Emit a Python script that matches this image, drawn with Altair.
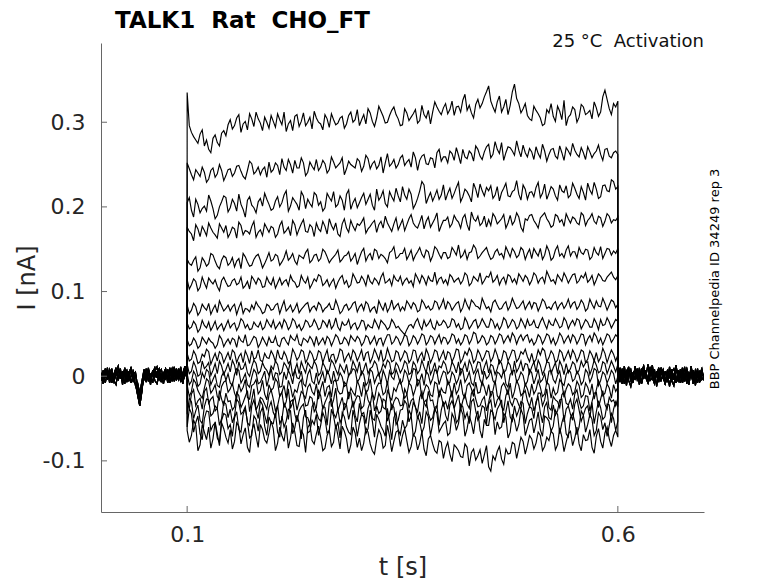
import altair as alt
import pandas as pd

# ---------------- axes / text ----------------
X_DOMAIN = [0.0, 0.7]
Y_DOMAIN = [-0.1604, 0.3936]
X_TICKS = [0.1, 0.6]
Y_TICKS = [-0.1, 0.0, 0.1, 0.2, 0.3]
NB = "\u00a0"
TITLE = "TALK1" + NB + " Rat" + NB + " CHO_FT"
SUBTITLE = "25 °C" + NB + " Activation"
SIDE_NOTE = "BBP Channelpedia ID 34249 rep 3"

# sample times (s): pre-pulse baseline, pulse, post-pulse baseline
T_PRE = [round(0.0025 * j, 4) for j in range(41)]
T_PULSE = [round(0.1 + 0.0025 * j, 5) for j in range(201)]
T_POST = [round(0.6 + 0.0025 * j, 4) for j in range(41)]

# ---------------- pulse currents (pA), samples at t = 0.100, 0.105, ... 0.600 ----------------
TR01 = [335, 288, 279, 286, 272, 268, 281, 276, 287, 284,
        303, 296, 309, 298, 291, 304, 312, 299, 306, 293,
        301, 310, 297, 289, 302, 307, 295, 311, 300, 292,
        305, 298, 309, 294, 303, 299, 307, 298, 312, 303,
        296, 309, 316, 301, 305, 313, 299, 308, 318, 304,
        297, 311, 306, 315, 302, 309, 314, 312, 318, 309,
        322, 315, 308, 319, 326, 314, 311, 321, 317, 330,
        343, 318, 324, 312, 327, 320, 345, 322, 316, 308,
        302, 314, 305, 298, 311, 307, 319, 303, 296, 309,
        315, 306, 318, 311, 304, 317, 312, 338, 316, 322, 325]
TR02 = [252, 238, 244, 236, 241, 233, 246, 239, 243, 237,
        245, 240, 249, 236, 243, 251, 242, 238, 247, 253,
        244, 249, 257, 243, 250, 255, 246, 252, 241, 248,
        256, 247, 251, 244, 253, 249, 258, 245, 250, 246,
        254, 248, 257, 251, 245, 259, 252, 248, 256, 250,
        261, 253, 247, 258, 255, 262, 250, 257, 264, 254,
        259, 266, 255, 261, 268, 257, 263, 272, 260, 265,
        274, 262, 268, 276, 264, 270, 261, 267, 273, 259,
        265, 271, 258, 266, 262, 269, 257, 264, 270, 261,
        267, 259, 264, 271, 258, 266, 262, 268, 260, 264, 262]
TR03 = [205, 196, 209, 193, 201, 214, 198, 190, 206, 211,
        199, 204, 215, 197, 208, 202, 193, 210, 216, 203,
        198, 212, 205, 219, 201, 207, 196, 213, 209, 200,
        214, 206, 199, 211, 218, 203, 208, 215, 197, 210,
        205, 216, 209, 202, 221, 212, 204, 218, 207, 213,
        224, 209, 215, 203, 219, 226, 211, 207, 220, 214,
        208, 222, 216, 229, 212, 218, 206, 221, 227, 213,
        219, 210, 224, 217, 228, 212, 220, 215, 226, 209,
        218, 223, 211, 227, 216, 221, 208, 219, 225, 214,
        222, 210, 217, 228, 215, 221, 212, 226, 218, 230, 224]
TR04 = [176, 168, 179, 165, 172, 181, 170, 163, 175, 178,
        169, 174, 182, 167, 171, 177, 164, 173, 180, 170,
        175, 168, 183, 172, 166, 179, 174, 185, 170, 176,
        181, 171, 177, 186, 173, 168, 180, 175, 184, 172,
        178, 187, 174, 181, 170, 183, 189, 176, 180, 173,
        185, 179, 191, 177, 182, 174, 188, 181, 193, 178,
        184, 176, 190, 182, 187, 179, 194, 183, 178, 189,
        185, 192, 180, 186, 175, 190, 183, 188, 171, 184,
        191, 180, 187, 193, 182, 178, 189, 185, 192, 181,
        186, 179, 190, 184, 192, 180, 187, 183, 189, 185, 188]
TR05 = [138, 131, 141, 128, 136, 133, 143, 130, 137, 140,
        134, 129, 139, 145, 135, 131, 142, 137, 133, 146,
        138, 142, 135, 148, 140, 136, 143, 139, 150, 137,
        144, 139, 147, 134, 141, 149, 138, 143, 136, 145,
        140, 151, 142, 137, 148, 144, 139, 146, 153, 141,
        145, 138, 149, 143, 152, 140, 147, 142, 150, 139,
        146, 141, 148, 155, 143, 138, 147, 151, 142, 149,
        144, 140, 150, 145, 153, 141, 147, 143, 149, 145,
        139, 146, 151, 143, 148, 140, 154, 145, 149, 142,
        147, 152, 144, 149, 141, 146, 153, 145, 150, 148, 151]
TR06 = [114, 108, 112, 105, 110, 116, 109, 106, 113, 111,
        107, 115, 110, 104, 112, 118, 109, 113, 106, 111,
        116, 110, 108, 114, 119, 111, 107, 113, 117, 109,
        112, 118, 110, 106, 115, 111, 119, 113, 108, 116,
        111, 114, 120, 109, 113, 117, 110, 115, 119, 112,
        108, 116, 113, 121, 110, 115, 118, 112, 109, 117,
        114, 120, 111, 116, 113, 119, 110, 115, 122, 113,
        117, 111, 119, 114, 109, 118, 115, 121, 112, 116,
        113, 119, 115, 110, 118, 114, 120, 112, 117, 115,
        121, 113, 116, 111, 119, 114, 118, 112, 120, 117, 119]
TR07 = [84, 78, 82, 76, 81, 86, 79, 75, 83, 80,
        77, 85, 81, 74, 79, 84, 88, 80, 76, 83,
        79, 86, 82, 77, 84, 80, 75, 82, 87, 81,
        78, 84, 80, 86, 79, 83, 77, 85, 81, 88,
        82, 78, 85, 80, 74, 83, 87, 81, 79, 86,
        82, 89, 80, 84, 78, 86, 83, 80, 87, 84,
        79, 85, 82, 88, 81, 84, 90, 83, 79, 86,
        82, 87, 84, 80, 88, 83, 86, 81, 89, 84,
        80, 86, 83, 88, 82, 85, 79, 87, 84, 81,
        88, 83, 86, 80, 85, 89, 82, 86, 84, 88, 85]
TR08 = [63, 58, 61, 56, 60, 64, 59, 55, 62, 60,
        57, 63, 59, 65, 61, 56, 60, 64, 58, 62,
        66, 60, 57, 63, 59, 65, 61, 58, 64, 60,
        62, 57, 63, 67, 60, 58, 64, 61, 56, 63,
        59, 65, 61, 57, 62, 66, 60, 58, 63, 59,
        52, 55, 61, 64, 60, 66, 62, 58, 65, 61,
        63, 59, 66, 62, 57, 64, 60, 67, 61, 63,
        58, 65, 62, 60, 66, 61, 64, 59, 63, 67,
        61, 58, 64, 62, 66, 60, 63, 59, 65, 62,
        60, 66, 61, 64, 58, 63, 67, 61, 64, 62, 65]
TR09 = [43, 38, 41, 36, 42, 45, 39, 37, 44, 40,
        38, 43, 47, 40, 36, 42, 45, 39, 41, 46,
        40, 37, 44, 41, 48, 42, 38, 45, 40, 43,
        47, 41, 38, 44, 42, 46, 39, 43, 48, 41,
        44, 40, 46, 42, 37, 45, 43, 49, 41, 44,
        42, 47, 40, 45, 43, 48, 41, 46, 44, 39,
        45, 42, 48, 44, 41, 47, 43, 50, 42, 45,
        40, 46, 43, 48, 44, 41, 47, 45, 42, 49,
        44, 41, 46, 43, 48, 45, 42, 47, 44, 40,
        46, 43, 49, 44, 41, 47, 45, 43, 48, 44, 46]
TR10 = [27, 20, 25, 17, 23, 29, 21, 18, 26, 22,
        19, 28, 23, 16, 24, 30, 22, 19, 27, 21,
        25, 31, 20, 24, 18, 27, 23, 29, 21, 26,
        20, 28, 24, 17, 26, 22, 30, 23, 19, 27,
        24, 18, 29, 22, 26, 31, 21, 25, 19, 28,
        23, 27, 20, 30, 24, 18, 26, 22, 29, 24,
        19, 27, 23, 31, 21, 25, 28, 20, 26, 23,
        29, 22, 25, 19, 28, 24, 30, 21, 26, 23,
        27, 20, 25, 30, 22, 26, 19, 28, 24, 21,
        26, 23, 29, 20, 25, 28, 22, 27, 24, 26, 25]
TR11 = [14, 6, 11, 2, 9, 16, 7, 3, 12, 8,
        5, 13, 17, 9, 4, 11, 15, 6, 10, 1,
        8, 14, 5, 12, 18, 7, 3, 10, 16, 9,
        13, 4, 11, 7, 15, 2, 9, 14, 6, 12,
        17, 8, 3, 11, 14, 6, 10, 16, 5, 12,
        9, 15, 4, 13, 7, 11, 18, 8, 3, 10,
        14, 6, 12, 17, 9, 5, 13, 8, 16, 11,
        4, 12, 9, 15, 7, 13, 18, 10, 6, 14,
        11, 5, 13, 8, 16, 10, 3, 12, 15, 9,
        14, 7, 11, 17, 9, 13, 6, 15, 10, 12, 14]
TR12 = [3, -6, 1, -9, -2, 5, -4, -11, 0, -5,
        -8, 2, 7, -3, -10, -1, 4, -7, 6, -2,
        -5, 3, -12, -4, 1, 8, -3, -9, 2, -6,
        4, -2, -8, 1, 6, -5, -1, -10, 3, 7,
        -3, 2, -7, 5, -1, -9, 0, 6, -4, 1,
        -6, 3, -2, 8, -5, -11, 2, -3, 5, -1,
        4, -7, 1, -3, 7, -2, -8, 3, -4, 6,
        0, -5, 5, -2, -9, 2, 7, -3, 1, -6,
        4, -1, -7, 3, 6, -4, 1, -8, 2, 5,
        -3, 1, -6, 4, -1, 7, -5, 2, -2, 3, 0]
TR13 = [-10, -18, -8, -22, -14, -6, -16, -24, -12, -5,
        -15, -20, -9, -13, -25, -11, -4, -17, -21, -10,
        -14, -7, -19, -26, -12, -16, -8, -22, -13, -18,
        -9, -15, -24, -11, -6, -17, -20, -10, -14, -23,
        -12, -7, -16, -21, -13, -9, -19, -25, -14, -10,
        -17, -22, -11, -15, -6, -18, -13, -24, -9, -14,
        -20, -12, -8, -16, -21, -11, -15, -7, -19, -13,
        -10, -17, -23, -12, -14, -8, -18, -11, -20, -15,
        -9, -16, -13, -21, -10, -14, -19, -8, -15, -12,
        -18, -11, -22, -13, -9, -16, -12, -20, -14, -10, -13]
TR14 = [-30, -21, -35, -26, -18, -32, -24, -38, -27, -20,
        -29, -36, -23, -31, -17, -28, -40, -25, -33, -22,
        -27, -35, -19, -30, -38, -24, -29, -21, -34, -26,
        -37, -23, -31, -18, -28, -41, -25, -32, -20, -29,
        -24, -35, -28, -19, -33, -26, -39, -22, -30, -27,
        -34, -21, -29, -37, -25, -31, -18, -28, -36, -23,
        -30, -26, -38, -22, -29, -33, -20, -27, -35, -24,
        -31, -19, -28, -36, -23, -30, -26, -34, -21, -29,
        -25, -33, -20, -28, -37, -24, -30, -22, -32, -27,
        -21, -29, -35, -24, -30, -19, -27, -33, -25, -28, -26]
TR15 = [-45, -30, -41, -52, -36, -28, -44, -38, -50, -33,
        -39, -47, -31, -42, -55, -35, -40, -29, -46, -37,
        -43, -34, -51, -38, -30, -45, -41, -33, -49, -36,
        -42, -53, -37, -31, -44, -39, -48, -34, -40, -46,
        -32, -43, -38, -50, -35, -41, -29, -45, -37, -52,
        -39, -33, -47, -36, -42, -31, -44, -49, -35, -40,
        -46, -34, -38, -51, -36, -43, -30, -41, -47, -37,
        -33, -45, -39, -28, -42, -48, -35, -40, -32, -44,
        -38, -30, -43, -36, -49, -34, -41, -27, -39, -45,
        -33, -40, -46, -35, -31, -42, -37, -48, -34, -39, -36]
TR16 = [-60, -44, -55, -68, -50, -42, -58, -73, -52, -46,
        -57, -49, -63, -45, -54, -70, -51, -43, -59, -48,
        -56, -66, -47, -53, -41, -61, -55, -49, -67, -52,
        -45, -58, -50, -64, -47, -54, -43, -60, -69, -51,
        -56, -48, -62, -53, -45, -59, -71, -55, -49, -63,
        -52, -58, -46, -65, -54, -60, -48, -57, -44, -61,
        -53, -67, -50, -56, -45, -62, -55, -49, -64, -51,
        -58, -43, -54, -60, -48, -66, -52, -57, -46, -61,
        -50, -56, -63, -47, -53, -59, -45, -55, -68, -49,
        -54, -60, -46, -57, -51, -64, -48, -55, -58, -50, -53]
TR17 = [-64, -70, -58, -81, -66, -60, -74, -68, -55, -72,
        -63, -77, -59, -69, -84, -65, -71, -57, -75, -67,
        -62, -79, -70, -58, -73, -66, -83, -69, -61, -76,
        -68, -72, -85, -64, -78, -70, -59, -74, -81, -67,
        -73, -79, -66, -88, -75, -69, -82, -71, -77, -64,
        -70, -76, -83, -72, -79, -86, -74, -80, -91, -78,
        -85, -92, -81, -88, -96, -84, -90, -99, -87, -93,
        -107, -94, -89, -98, -86, -91, -80, -85, -77, -82,
        -74, -79, -70, -83, -76, -68, -81, -72, -78, -65,
        -73, -80, -69, -75, -84, -71, -77, -67, -74, -70, -72]

# ---------------- pulse currents (pA), samples at t = 0.1025, 0.1075, ... 0.5975 ----------------
TR01B = [296, 283, 275, 291, 279, 264, 285, 272, 290, 297,
         292, 305, 288, 301, 310, 295, 304, 290, 300, 308,
         294, 303, 312, 298, 290, 309, 301, 296, 306, 313,
         300, 291, 304, 310, 297, 305, 293, 308, 300, 315,
         303, 298, 311, 295, 319, 307, 300, 314, 309, 296,
         316, 302, 310, 299, 320, 305, 298, 324, 313, 317,
         310, 325, 318, 312, 333, 320, 305, 327, 322, 336,
         325, 312, 331, 318, 309, 336, 328, 311, 322, 304,
         319, 310, 296, 315, 322, 301, 313, 326, 306, 318,
         300, 321, 309, 314, 324, 307, 330, 327, 309, 318]
TR02B = [245, 232, 240, 247, 229, 243, 235, 250, 231, 244,
         236, 248, 242, 233, 254, 239, 247, 244, 235, 241,
         252, 238, 247, 256, 240, 246, 258, 237, 253, 244,
         243, 255, 240, 259, 246, 252, 238, 254, 248, 257,
         242, 261, 245, 254, 249, 240, 263, 251, 246, 258,
         249, 256, 265, 243, 260, 251, 258, 246, 268, 259,
         252, 263, 270, 251, 259, 266, 254, 268, 256, 271,
         258, 277, 263, 255, 271, 266, 278, 259, 264, 269,
         256, 263, 274, 254, 268, 260, 272, 255, 266, 275,
         262, 270, 256, 265, 263, 273, 255, 269, 258, 266]
TR03B = [211, 188, 203, 198, 195, 207, 186, 200, 213, 194,
         209, 195, 203, 188, 212, 199, 206, 201, 209, 196,
         207, 200, 214, 195, 211, 203, 218, 198, 204, 217,
         202, 195, 216, 207, 200, 213, 196, 220, 205, 199,
         211, 203, 215, 196, 208, 219, 200, 212, 222, 206,
         214, 221, 198, 210, 230, 204, 217, 213, 209, 226,
         216, 210, 223, 206, 221, 213, 228, 211, 219, 223,
         225, 214, 207, 222, 213, 218, 231, 208, 221, 217,
         212, 229, 216, 209, 224, 213, 226, 217, 211, 228,
         215, 224, 208, 220, 229, 210, 225, 219, 232, 221]
TR04B = [171, 160, 174, 177, 166, 175, 167, 180, 170, 164,
         176, 163, 178, 172, 168, 183, 170, 166, 175, 177,
         164, 178, 169, 176, 184, 167, 180, 171, 179, 165,
         174, 183, 168, 178, 181, 165, 186, 170, 177, 180,
         182, 169, 177, 184, 179, 175, 181, 171, 187, 179,
         172, 186, 181, 175, 190, 183, 176, 186, 171, 184,
         188, 180, 185, 175, 191, 172, 186, 189, 181, 176,
         178, 188, 183, 191, 181, 179, 193, 176, 186, 190,
         184, 175, 190, 186, 176, 191, 182, 177, 186, 188,
         181, 193, 178, 187, 183, 189, 177, 192, 181, 184]
TR05B = [133, 137, 124, 140, 130, 145, 136, 127, 142, 131,
         140, 136, 127, 141, 130, 138, 144, 128, 139, 136,
         144, 131, 140, 137, 145, 132, 141, 146, 134, 143,
         136, 150, 141, 138, 144, 135, 142, 147, 140, 132,
         147, 136, 145, 150, 139, 142, 134, 148, 139, 145,
         151, 143, 137, 147, 144, 149, 136, 153, 144, 146,
         139, 152, 143, 140, 149, 146, 155, 139, 146, 152,
         138, 147, 143, 139, 147, 151, 140, 152, 138, 150,
         151, 142, 138, 154, 137, 149, 142, 140, 154, 147,
         140, 146, 150, 138, 152, 143, 139, 151, 143, 145]
TR06B = [103, 115, 101, 117, 104, 112, 114, 101, 117, 106,
         113, 108, 117, 107, 103, 114, 116, 105, 117, 108,
         104, 116, 112, 107, 113, 105, 119, 110, 104, 115,
         120, 107, 114, 111, 104, 116, 109, 105, 121, 110,
         118, 107, 112, 116, 108, 122, 112, 107, 114, 118,
         113, 110, 106, 116, 119, 108, 113, 123, 115, 110,
         108, 117, 114, 109, 122, 107, 118, 112, 109, 118,
         123, 114, 108, 117, 120, 111, 109, 117, 119, 108,
         122, 110, 117, 124, 112, 109, 116, 122, 110, 120,
         110, 119, 122, 114, 108, 121, 113, 117, 123, 114]
TR07B = [74, 86, 72, 85, 78, 73, 84, 89, 77, 84,
         82, 73, 87, 80, 76, 79, 83, 74, 85, 78,
         84, 74, 89, 80, 76, 86, 79, 85, 76, 83,
         87, 76, 82, 79, 90, 74, 83, 78, 86, 76,
         85, 88, 76, 82, 89, 78, 76, 90, 83, 77,
         78, 85, 87, 76, 90, 80, 78, 89, 79, 91,
         88, 78, 86, 76, 91, 79, 87, 82, 92, 80,
         76, 90, 79, 85, 78, 92, 80, 85, 79, 88,
         87, 77, 91, 80, 79, 88, 84, 80, 91, 86,
         79, 90, 77, 91, 80, 83, 92, 78, 90, 81]
TR08B = [56, 65, 52, 66, 57, 54, 65, 59, 54, 66,
         61, 54, 68, 57, 55, 64, 58, 55, 67, 58,
         56, 64, 67, 55, 68, 57, 54, 66, 58, 67,
         55, 66, 58, 56, 69, 54, 60, 67, 61, 55,
         66, 55, 58, 67, 56, 63, 55, 67, 57, 55,
         49, 60, 57, 68, 55, 59, 67, 55, 60, 66,
         57, 68, 58, 55, 69, 56, 65, 57, 68, 58,
         68, 57, 55, 69, 57, 67, 56, 68, 57, 60,
         66, 57, 69, 56, 61, 68, 57, 69, 56, 66,
         68, 56, 67, 58, 68, 55, 60, 69, 57, 67]
TR09B = [36, 45, 33, 46, 38, 41, 33, 48, 35, 44,
         45, 34, 42, 49, 37, 47, 34, 46, 36, 40,
         47, 35, 46, 37, 44, 49, 36, 43, 47, 36,
         37, 45, 47, 36, 49, 38, 46, 37, 44, 47,
         36, 48, 38, 47, 44, 36, 49, 38, 47, 37,
         49, 36, 48, 38, 50, 37, 48, 38, 49, 46,
         38, 50, 39, 37, 49, 38, 52, 39, 48, 37,
         48, 38, 50, 39, 48, 51, 38, 49, 47, 40,
         37, 49, 38, 50, 39, 37, 51, 39, 48, 49,
         38, 50, 37, 48, 51, 39, 37, 50, 40, 49]
TR10B = [18, 30, 15, 26, 32, 14, 27, 29, 16, 28,
         31, 16, 27, 30, 15, 20, 31, 17, 22, 30,
         17, 22, 29, 15, 32, 19, 31, 16, 30, 18,
         30, 16, 31, 25, 16, 32, 17, 27, 31, 18,
         31, 27, 16, 32, 19, 17, 33, 17, 30, 18,
         30, 16, 31, 17, 28, 32, 16, 31, 18, 30,
         29, 17, 32, 16, 29, 33, 16, 31, 18, 30,
         17, 32, 15, 30, 18, 31, 17, 29, 32, 17,
         16, 31, 33, 17, 30, 16, 31, 18, 30, 31,
         17, 31, 16, 30, 18, 17, 33, 16, 31, 18]
TR11B = [3, 17, 0, 18, 12, 1, 15, 18, 2, 15,
         19, 1, 8, 16, 0, 19, 3, 16, 7, 12,
         18, 2, 16, 6, 0, 15, 17, 4, 12, 18,
         1, 16, 3, 19, 8, 14, 4, 0, 18, 5,
         2, 16, 9, 18, 1, 15, 19, 2, 16, 4,
         18, 2, 17, 3, 19, 4, 2, 16, 12, 18,
         3, 17, 4, 2, 16, 19, 3, 17, 2, 18,
         14, 2, 19, 4, 17, 1, 5, 18, 15, 3,
         17, 19, 2, 17, 3, 16, 18, 2, 4, 17,
         3, 18, 16, 2, 19, 4, 17, 3, 18, 5]
TR12B = [-10, 6, -12, 4, 8, -10, 2, -13, 5, 3,
         -11, 9, -8, 3, -13, 8, -9, -1, -12, 9,
         4, -13, 5, 7, -9, -2, 6, -12, 8, -9,
         -10, 5, 7, -9, -6, 4, -12, 2, 9, -7,
         6, -11, 8, -8, 4, 7, -10, -1, 8, -9,
         7, -8, 9, -12, 3, 6, -9, 8, -10, 6,
         -10, 5, -9, 9, -7, 5, -11, 8, -10, -3,
         7, -9, 3, 8, -13, 6, -7, 5, -11, 8,
         -9, 8, -4, -10, 7, -8, 6, -11, 7, -6,
         6, -10, 8, -7, 9, -11, 5, -8, 7, -9]
TR13B = [-24, -4, -17, -26, -3, -20, -10, -28, -7, -19,
         -8, -26, -18, -4, -27, -9, -21, -5, -28, -17,
         -3, -24, -11, -5, -25, -19, -4, -26, -9, -22,
         -27, -6, -13, -25, -4, -21, -7, -27, -19, -5,
         -24, -20, -3, -27, -8, -22, -6, -28, -18, -4,
         -26, -8, -23, -4, -27, -10, -22, -7, -25, -19,
         -5, -25, -21, -4, -26, -8, -24, -20, -6, -23,
         -24, -5, -27, -8, -22, -26, -5, -23, -9, -25,
         -21, -5, -24, -7, -26, -22, -4, -25, -9, -22,
         -6, -25, -8, -22, -27, -5, -23, -9, -26, -18]
TR14B = [-38, -16, -29, -39, -14, -27, -41, -17, -35, -30,
         -40, -19, -37, -24, -42, -15, -34, -27, -39, -16,
         -41, -23, -37, -15, -31, -40, -18, -35, -24, -42,
         -17, -39, -25, -36, -14, -33, -40, -19, -37, -23,
         -38, -16, -34, -41, -20, -37, -17, -40, -25, -35,
         -15, -38, -26, -42, -18, -36, -29, -40, -17, -35,
         -39, -17, -30, -40, -21, -38, -16, -36, -28, -41,
         -18, -37, -24, -40, -16, -35, -27, -39, -17, -36,
         -41, -20, -35, -15, -40, -28, -37, -18, -34, -39,
         -16, -38, -23, -41, -20, -37, -17, -39, -30, -35]
TR15B = [-26, -50, -34, -56, -27, -47, -35, -58, -30, -49,
         -55, -27, -45, -36, -58, -28, -50, -34, -56, -30,
         -48, -56, -32, -51, -28, -54, -36, -48, -57, -31,
         -50, -35, -58, -27, -49, -55, -32, -51, -29, -54,
         -45, -56, -30, -52, -44, -27, -53, -33, -57, -40,
         -29, -54, -31, -50, -56, -28, -52, -37, -58, -30,
         -53, -29, -55, -33, -50, -56, -27, -52, -35, -57,
         -28, -51, -34, -55, -29, -53, -47, -30, -56, -36,
         -50, -25, -55, -31, -51, -46, -28, -54, -35, -52,
         -27, -53, -38, -49, -56, -29, -51, -33, -55, -30]
TR16B = [-38, -66, -47, -75, -41, -64, -55, -78, -44, -62,
         -71, -42, -66, -38, -73, -47, -65, -37, -70, -55,
         -43, -72, -60, -39, -68, -46, -74, -40, -65, -57,
         -70, -43, -67, -39, -62, -73, -48, -66, -40, -71,
         -45, -68, -40, -72, -51, -64, -38, -75, -43, -69,
         -62, -40, -71, -47, -67, -42, -70, -39, -66, -56,
         -70, -44, -64, -38, -71, -47, -68, -41, -73, -58,
         -40, -69, -62, -44, -73, -45, -65, -39, -70, -52,
         -67, -42, -71, -49, -65, -40, -68, -46, -72, -44,
         -69, -41, -66, -45, -70, -43, -63, -71, -44, -64]
TR17B = [-78, -52, -88, -57, -75, -85, -54, -82, -62, -79,
         -86, -55, -80, -61, -90, -56, -84, -63, -79, -53,
         -88, -60, -77, -85, -55, -82, -64, -90, -56, -80,
         -59, -88, -70, -83, -57, -86, -65, -91, -60, -84,
         -88, -61, -80, -92, -63, -85, -58, -89, -66, -83,
         -62, -90, -69, -87, -65, -94, -70, -88, -76, -97,
         -78, -101, -84, -95, -80, -106, -86, -94, -103, -82,
         -112, -99, -83, -104, -92, -78, -97, -72, -92, -70,
         -86, -66, -88, -72, -65, -87, -61, -89, -68, -82,
         -60, -88, -76, -63, -91, -62, -85, -60, -83, -64]

# ---------------- baseline noise before / after the pulse (pA) ----------------
B1 = [4, -6, 9, -3, 7, -8, 2, 10, -5, 6, -2, 8, -7, 3, 11, -4, -9, -22, -35, -18,
      5, -3, 8, -6, 4, 10, -2, 7, -7, 3, 9, -4, 6, -1, 11, -5, 4, 8, -3, 7, 2]
B2 = [-5, 7, -2, 10, -8, 3, -6, 5, 12, -3, 6, -9, 4, -1, 8, -7, 2, -14, -26, -10,
      -4, 9, -6, 3, -8, 6, 11, -4, 2, -9, 5, -2, 10, -6, 3, -3, 9, -7, 4, 12, -1]
B3 = [2, -9, 5, -4, 8, 1, -7, 4, -2, 9, -10, 3, 7, -5, 0, 6, -11, -8, -20, -6,
      8, -2, 4, -10, 7, -1, 5, 9, -6, 2, -3, 8, -8, 5, 0, 9, -4, 3, -9, 6, -3]
B4 = [-3, 5, -8, 6, -1, 9, -5, -10, 7, 1, -6, 10, -2, 6, -8, 2, 5, -12, -29, -15,
      2, -7, 10, -3, 6, -5, -9, 4, 8, -2, 6, -8, 2, 9, -6, 4, -2, 11, -5, 1, 4]
P1 = [8, -4, 6, -9, 3, 11, -6, 2, -3, 9, -7, 5, 12, -2, -8, 4, 7, -5, 1, 10,
      -6, 3, -10, 6, -1, 8, -4, 13, -3, 5, -8, 2, 9, -5, 4, -9, 7, 0, -6, 5, -2]
P2 = [-6, 10, -2, 5, -11, 7, 1, -8, 12, -4, 3, -9, 6, 0, 14, -5, -2, 8, -12, 4,
      9, -3, 6, -7, 11, -5, 2, -8, 7, -1, 10, -6, 3, -10, 6, 2, -4, 9, -7, 3, 1]
P3 = [3, -7, 9, -1, 6, -5, -12, 4, 7, -3, 10, -8, 1, 5, -6, 11, -2, -9, 6, -4,
      2, 8, -7, 3, -12, 5, 9, -2, -6, 8, -3, 11, -9, 4, -1, 7, -11, 3, 6, -4, 0]
P4 = [-2, 6, -9, 12, -4, 2, 8, -6, -1, 5, -10, 9, -3, 7, -8, 1, 13, -4, 5, -7,
      10, -2, -9, 6, 3, -5, -11, 7, 2, -8, 4, -3, 8, -7, 12, -2, 5, -8, 2, 9, -5]

SWEEPS = [TR01, TR02, TR03, TR04, TR05, TR06, TR07, TR08, TR09,
          TR10, TR11, TR12, TR13, TR14, TR15, TR16, TR17]
SWEEPS_B = [TR01B, TR02B, TR03B, TR04B, TR05B, TR06B, TR07B, TR08B, TR09B,
            TR10B, TR11B, TR12B, TR13B, TR14B, TR15B, TR16B, TR17B]
BASE_PRE = [B1, B2, B3, B4]
BASE_POST = [P1, P2, P3, P4]

rows = []
for s in range(len(SWEEPS)):
    a, b = SWEEPS[s], SWEEPS_B[s]
    pulse = []
    for j in range(len(T_PULSE)):
        pulse.append(a[j // 2] if j % 2 == 0 else b[j // 2])
    segs = [(T_PRE, BASE_PRE[s % 4]), (T_PULSE, pulse), (T_POST, BASE_POST[s % 4])]
    k = 0
    for ts, vs in segs:
        for t, v in zip(ts, vs):
            rows.append({"sweep": s, "k": k, "t": t, "I": v / 1000.0})
            k += 1
df = pd.DataFrame(rows)

FONT = "DejaVu Sans"
W, H = 603, 469

lines = alt.Chart(df).mark_line(color="black", strokeWidth=1.15, clip=True).encode(
    x=alt.X("t:Q", scale=alt.Scale(domain=X_DOMAIN, nice=False, zero=False),
            axis=alt.Axis(values=X_TICKS, title="t [s]", grid=False, tickSize=0,
                          labelPadding=12, labelFontSize=22, labelFont=FONT,
                          labelColor="#262626", labelFlush=False,
                          labelExpr="'' + datum.value",
                          domainColor="#666666", domainWidth=1,
                          titleFont=FONT, titleFontSize=24, titleFontWeight="normal",
                          titleColor="#262626", titleX=W / 2, titleY=55,
                          titleBaseline="middle", titleAlign="center")),
    y=alt.Y("I:Q", scale=alt.Scale(domain=Y_DOMAIN, nice=False, zero=False),
            axis=alt.Axis(values=Y_TICKS, title="I [nA]", grid=False, tickSize=0,
                          labelPadding=16, labelFontSize=22, labelFont=FONT,
                          labelColor="#262626", labelExpr="'' + datum.value",
                          domainColor="#666666", domainWidth=1,
                          titleFont=FONT, titleFontSize=24, titleFontWeight="normal",
                          titleColor="#262626", titleX=-74, titleY=H / 2,
                          titleAngle=270, titleBaseline="middle", titleAlign="center")),
    detail="sweep:N",
    order="k:Q",
)

ytick_df = pd.DataFrame({"v": Y_TICKS})
xtick_df = pd.DataFrame({"v": X_TICKS})
yticks = alt.Chart(ytick_df).mark_rule(color="#666666", strokeWidth=1).encode(
    y="v:Q", x=alt.value(0), x2=alt.value(6))
xticks = alt.Chart(xtick_df).mark_rule(color="#666666", strokeWidth=1).encode(
    x="v:Q", y=alt.value(H), y2=alt.value(H - 6))

title = alt.Chart(pd.DataFrame({"s": [TITLE]})).mark_text(
    font=FONT, fontSize=23, fontWeight="bold", color="black", align="left",
    baseline="alphabetic").encode(text="s:N", x=alt.value(14), y=alt.value(-15))
subtitle = alt.Chart(pd.DataFrame({"s": [SUBTITLE]})).mark_text(
    font=FONT, fontSize=18, color="#111111", align="right",
    baseline="alphabetic").encode(text="s:N", x=alt.value(W), y=alt.value(4))
side = alt.Chart(pd.DataFrame({"s": [SIDE_NOTE]})).mark_text(
    font=FONT, fontSize=13, color="black", align="center", angle=270,
    baseline="middle").encode(text="s:N", x=alt.value(614), y=alt.value(236))

chart = alt.layer(lines, yticks, xticks, title, subtitle, side).properties(
    width=W, height=H,
    autosize=alt.AutoSizeParams(type="none"),
    padding={"left": 93, "top": 35, "right": 60, "bottom": 72},
    background="white",
).configure_view(strokeWidth=0)

chart.save("out.html", embed_options={"renderer": "svg", "actions": False})
